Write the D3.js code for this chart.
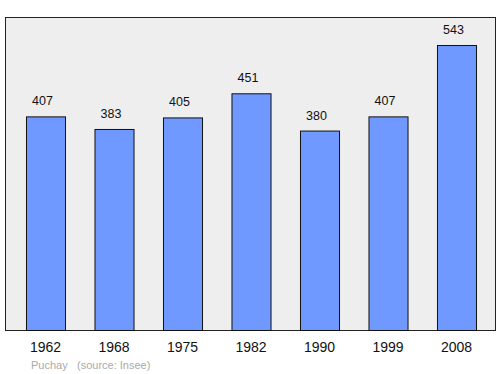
<!DOCTYPE html>
<html>
<head>
<meta charset="utf-8">
<script src="https://cdn.jsdelivr.net/npm/d3@7"></script>
<style>
  body { margin: 0; background: #fff; }
  text { font-family: "Liberation Sans", Arial, sans-serif; }
</style>
</head>
<body>
<div id="chart"></div>
<script>
// population by census year
const years = ["1962", "1968", "1975", "1982", "1990", "1999", "2008"];
const population = [407, 383, 405, 451, 380, 407, 543];
const commune = "Puchay";
const source = "(source: Insee)";

const W = 500, H = 374;
const plot = { left: 5, right: 495, top: 17, bottom: 330 };

const svg = d3.select("#chart")
    .append("svg")
    .attr("width", W)
    .attr("height", H);

const x = d3.scaleBand()
    .domain(years)
    .range([11.25, 490.75])
    .paddingInner(0.43)
    .paddingOuter(0.215);

const y = d3.scaleLinear()
    .domain([0, 543])
    .range([plot.bottom, 45]);

// plot background
svg.append("rect")
    .attr("x", plot.left + 0.5)
    .attr("y", plot.top + 0.5)
    .attr("width", plot.right - plot.left)
    .attr("height", plot.bottom - plot.top)
    .attr("fill", "#eeeeee")
    .attr("stroke", "#222")
    .attr("stroke-width", 1);

const data = years.map((yr, i) => ({ year: yr, value: population[i] }));

svg.selectAll(".bar")
    .data(data)
    .enter()
    .append("rect")
    .attr("class", "bar")
    .attr("x", d => x(d.year) + 0.5)
    .attr("y", d => y(d.value) + 0.5)
    .attr("width", x.bandwidth())
    .attr("height", d => y(0) - y(d.value))
    .attr("fill", "#7099ff")
    .attr("stroke", "#111")
    .attr("stroke-width", 1);

// value labels
svg.selectAll(".val")
    .data(data)
    .enter()
    .append("text")
    .attr("class", "val")
    .attr("x", d => x(d.year) + x.bandwidth() / 2 - 3)
    .attr("y", d => y(d.value) - 11)
    .attr("text-anchor", "middle")
    .attr("font-size", 12.5)
    .attr("fill", "#111")
    .text(d => d.value);

// year labels
svg.selectAll(".yr")
    .data(years)
    .enter()
    .append("text")
    .attr("class", "yr")
    .attr("x", d => x(d) + x.bandwidth() / 2)
    .attr("y", 352)
    .attr("text-anchor", "middle")
    .attr("font-size", 14)
    .attr("fill", "#111")
    .text(d => d);

svg.append("text")
    .attr("x", 31)
    .attr("y", 369)
    .attr("font-size", 11)
    .attr("fill", "#aaa")
    .text(commune);

svg.append("text")
    .attr("x", 77)
    .attr("y", 369)
    .attr("font-size", 11)
    .attr("fill", "#aaa")
    .text(source);
</script>
</body>
</html>
